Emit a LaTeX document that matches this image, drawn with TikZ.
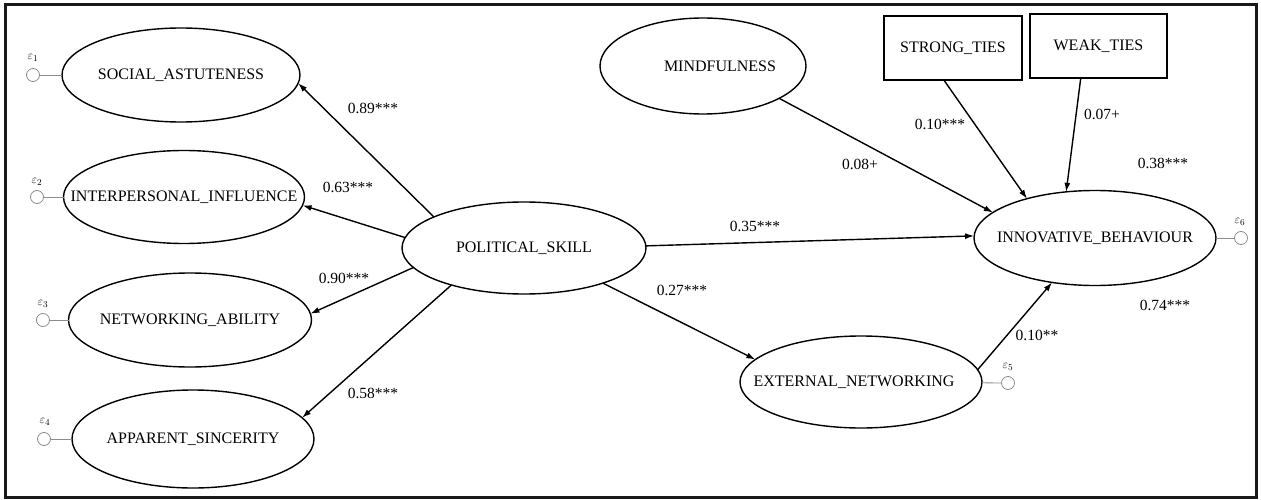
\documentclass[tikz,border=0pt]{standalone}
\usepackage{fontspec}
\setmainfont{Liberation Serif}
\usetikzlibrary{shapes.geometric,arrows.meta}
\begin{document}
\begin{tikzpicture}[x=1pt,y=-1pt,
  lat/.style={ellipse,draw,line width=1.4pt,inner sep=0pt,outer sep=0pt,font=\fontsize{16}{19}\selectfont},
  obs/.style={rectangle,draw,line width=1.4pt,inner sep=0pt,outer sep=0pt,font=\fontsize{16}{19}\selectfont},
  err/.style={circle,draw=black!45,line width=0.8pt,minimum size=13pt,inner sep=0pt,outer sep=0pt},
  errline/.style={draw=black!45,line width=0.8pt},
  arr/.style={-{Latex[length=9pt,width=6pt]},line width=1.4pt},
  coef/.style={font=\fontsize{15.5}{18}\selectfont,inner sep=0pt},
  elab/.style={font=\fontsize{13}{15}\selectfont,inner sep=0pt}]
\useasboundingbox (0,0) rectangle (1261,500);
\draw[line width=3pt,black!90] (5,5) rectangle (1256,497);

% latent variables
\node[lat,minimum width=238pt,minimum height=94pt] (SA) at (181,75) {\makebox[0pt]{SOCIAL\_ASTUTENESS}};
\node[lat,minimum width=241pt,minimum height=93pt] (II) at (184,197) {\makebox[0pt]{INTERPERSONAL\_INFLUENCE}};
\node[lat,minimum width=243pt,minimum height=94pt] (NA) at (190,320) {\makebox[0pt]{NETWORKING\_ABILITY}};
\node[lat,minimum width=242pt,minimum height=98pt] (AS) at (193,439) {\makebox[0pt]{APPARENT\_SINCERITY}};
\node[lat,minimum width=244pt,minimum height=92pt] (PS) at (524,248) {\makebox[0pt]{POLITICAL\_SKILL}};
\node[lat,minimum width=206pt,minimum height=96pt] (MF) at (703,66) {\makebox[0pt]{\hspace*{34pt}MINDFULNESS}};
\node[lat,minimum width=242pt,minimum height=95pt] (IB) at (1095,238) {\makebox[0pt]{INNOVATIVE\_BEHAVIOUR}};
\node[lat,minimum width=242pt,minimum height=92pt] (EN) at (861,382) {\makebox[0pt]{\hspace*{-14pt}EXTERNAL\_NETWORKING}};

% observed variables
\node[obs,minimum width=138pt,minimum height=64pt] (ST) at (953,48) {STRONG\_TIES};
\node[obs,minimum width=137pt,minimum height=64pt] (WT) at (1098.5,46) {WEAK\_TIES};

% error terms
\node[err] (e1) at (33,75) {};
\node[err] (e2) at (37,197) {};
\node[err] (e3) at (43,320) {};
\node[err] (e4) at (44,439) {};
\node[err] (e5) at (1008,383) {};
\node[err] (e6) at (1241,238) {};
\node[elab] (l1) at (33,58) {$\varepsilon_1$};
\node[elab] (l2) at (37,182) {$\varepsilon_2$};
\node[elab] (l3) at (43,304) {$\varepsilon_3$};
\node[elab] (l4) at (45,422) {$\varepsilon_4$};
\node[elab] (l5) at (1008,367) {$\varepsilon_5$};
\node[elab] (l6) at (1240,222) {$\varepsilon_6$};
\draw[errline] (e1) -- (SA);
\draw[errline] (e2) -- (II);
\draw[errline] (e3) -- (NA);
\draw[errline] (e4) -- (AS);
\draw[errline] (e5) -- (EN);
\draw[errline] (e6) -- (IB);

% paths
\draw[arr] (PS.161) -- (SA.-4);
\draw[arr] (PS.175) -- (II.-4);
\draw[arr] (PS.190) -- (NA.3);
\draw[arr] (PS.207) -- (AS.11);
\draw[arr] (PS.1.4) -- (IB.179);
\draw[arr] (PS.-24.5) -- (EN.168.6);
\draw[arr] (EN.6.8) -- (IB.226);
\draw[arr] (MF.-23) -- (IB.166);
\draw[arr] (ST.254) -- (IB.150);
\draw[arr] (WT.241) -- (IB.122);

% coefficients
\node[coef] (c1) at (373,108) {0.89***};
\node[coef] (c2) at (348,187) {0.63***};
\node[coef] (c3) at (344,278) {0.90***};
\node[coef] (c4) at (373,393) {0.58***};
\node[coef] (c5) at (755,226) {0.35***};
\node[coef] (c6) at (682,290) {0.27***};
\node[coef] (c7) at (860,164) {0.08+};
\node[coef] (c8) at (940,124) {0.10***};
\node[coef] (c9) at (1102,114) {0.07+};
\node[coef] (c10) at (1163,163) {0.38***};
\node[coef] (c11) at (1165,305) {0.74***};
\node[coef] (c12) at (1037,335) {0.10**};
\end{tikzpicture}
\end{document}
